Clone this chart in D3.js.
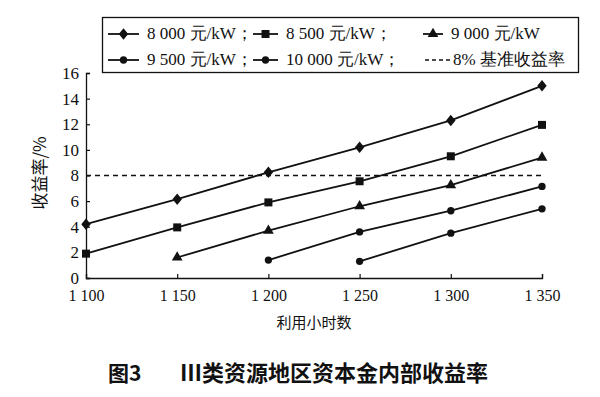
<!DOCTYPE html>
<html>
<head>
<meta charset="utf-8">
<script src="https://cdn.jsdelivr.net/npm/d3@7"></script>
<style>
body{margin:0;background:#fff;}
text{fill:#111;}
</style>
</head>
<body>
<div id="chart"></div>
<script>
// hours of use (x categories)
const hours = [1100, 1150, 1200, 1250, 1300, 1350];
const yTicks = [0, 2, 4, 6, 8, 10, 12, 14, 16];

// return rate (%) per investment cost, null = not drawn
const s8000 = [4.2, 6.15, 8.25, 10.2, 12.3, 15.0];
const s8500 = [1.9, 3.95, 5.9, 7.55, 9.5, 11.95];
const s9000 = [null, 1.6, 3.7, 5.6, 7.25, 9.4];
const s9500 = [null, null, 1.4, 3.6, 5.25, 7.15];
const s10000 = [null, null, null, 1.3, 3.5, 5.4];
const benchmark = 8;

const seriesNames = ["8 000 元/kW；", "8 500 元/kW；", "9 000 元/kW", "9 500 元/kW；", "10 000 元/kW；"];
const seriesMarks = ["diamond", "square", "triangle", "circle", "circle"];
const seriesVals = [s8000, s8500, s9000, s9500, s10000];

const SERIF = "'Liberation Serif', 'Times New Roman', serif";
const CJK = "'Noto Sans CJK SC', sans-serif";

const width = 600, height = 397;
const margin = {top: 73, bottom: 119, left: 86, right: 58};

const svg = d3.select("#chart").append("svg")
  .attr("width", width)
  .attr("height", height);

const xScale = d3.scaleLinear()
  .domain([1100, 1350])
  .range([margin.left, width - margin.right]);

const yScale = d3.scaleLinear()
  .domain([0, 16])
  .range([height - margin.bottom, margin.top]);

const xAxis = d3.axisBottom(xScale)
  .tickValues(hours)
  .tickSize(-4)
  .tickPadding(12)
  .tickFormat(d => d3.format(",")(d).replace(",", " "));

const yAxis = d3.axisLeft(yScale)
  .tickValues(yTicks)
  .tickSize(-4)
  .tickPadding(8);

const gx = svg.append("g")
  .attr("transform", `translate(0,${height - margin.bottom})`)
  .call(xAxis)
  .attr("font-family", SERIF);
gx.select(".domain").attr("stroke", "#111").attr("stroke-width", 1.3);
gx.selectAll(".tick line").attr("stroke", "#111").attr("stroke-width", 1.2);
gx.selectAll(".tick text")
  .style("font-family", SERIF)
  .style("font-size", "16px")
  .attr("dy", "0.71em");

const gy = svg.append("g")
  .attr("transform", `translate(${margin.left},0)`)
  .call(yAxis)
  .attr("font-family", SERIF);
gy.select(".domain").attr("stroke", "#111").attr("stroke-width", 1.3);
gy.selectAll(".tick line").attr("stroke", "#111").attr("stroke-width", 1.2);
gy.selectAll(".tick text")
  .style("font-family", SERIF)
  .style("font-size", "17px")
  .attr("x", -7);

// axis titles
svg.append("text")
  .attr("x", xScale(1225))
  .attr("y", 328)
  .attr("text-anchor", "middle")
  .style("font-family", CJK)
  .style("font-size", "15px")
  .text("利用小时数");

svg.append("text")
  .attr("transform", `translate(46,${yScale(8.2)}) rotate(-90)`)
  .attr("text-anchor", "middle")
  .style("font-family", CJK)
  .style("font-size", "17px")
  .text("收益率/%");

// benchmark dashed line
svg.append("line")
  .attr("x1", xScale(1100))
  .attr("x2", xScale(1350))
  .attr("y1", yScale(benchmark))
  .attr("y2", yScale(benchmark))
  .attr("stroke", "#111")
  .attr("stroke-width", 1.5)
  .attr("stroke-dasharray", "5,4");

const symbolOf = {
  diamond: d3.symbol().type(d3.symbolDiamond2 || d3.symbolDiamond).size(70),
  square: d3.symbol().type(d3.symbolSquare).size(64),
  triangle: d3.symbol().type(d3.symbolTriangle).size(50),
  circle: d3.symbol().type(d3.symbolCircle).size(42)
};

const line = d3.line()
  .defined(d => d.v != null)
  .x(d => xScale(d.h))
  .y(d => yScale(d.v));

seriesVals.forEach((vals, i) => {
  const pts = hours.map((h, j) => ({h: h, v: vals[j]}));
  svg.append("path")
    .datum(pts)
    .attr("fill", "none")
    .attr("stroke", "#111")
    .attr("stroke-width", 1.8)
    .attr("d", line);
  svg.selectAll(".m" + i)
    .data(pts.filter(d => d.v != null))
    .join("path")
    .attr("class", "m" + i)
    .attr("transform", d => `translate(${xScale(d.h)},${yScale(d.v)})` + (seriesMarks[i] === "diamond" ? " scale(0.9,1.1)" : ""))
    .attr("d", symbolOf[seriesMarks[i]])
    .attr("fill", "#111");
});

// legend
svg.append("rect")
  .attr("x", 102.5).attr("y", 17.5)
  .attr("width", 476).attr("height", 55)
  .attr("fill", "#fff")
  .attr("stroke", "#111")
  .attr("stroke-width", 1.3);

const legendPos = [[108, 34], [253, 34], [423, 34], [108, 60], [253, 60]];
seriesNames.forEach((name, i) => {
  const [lx, ly] = legendPos[i];
  const len = i === 2 ? 20 : (i < 1 || i === 3 ? 31 : 25);
  svg.append("line")
    .attr("x1", lx).attr("x2", lx + len)
    .attr("y1", ly).attr("y2", ly)
    .attr("stroke", "#111").attr("stroke-width", 1.8);
  svg.append("path")
    .attr("transform", `translate(${lx + len / 2},${ly})` + (seriesMarks[i] === "diamond" ? " scale(0.9,1.1)" : ""))
    .attr("d", symbolOf[seriesMarks[i]])
    .attr("fill", "#111");
  svg.append("text")
    .attr("x", lx + len + 8)
    .attr("y", ly + 5)
    .style("font-family", SERIF)
    .style("font-size", "17px")
    .text(name);
});

svg.append("line")
  .attr("x1", 425).attr("x2", 450)
  .attr("y1", 60).attr("y2", 60)
  .attr("stroke", "#111").attr("stroke-width", 1.5)
  .attr("stroke-dasharray", "4,3");
svg.append("text")
  .attr("x", 453)
  .attr("y", 65)
  .style("font-family", SERIF)
  .style("font-size", "17px")
  .text("8% 基准收益率");

// caption
svg.append("text")
  .attr("x", 108)
  .attr("y", 381)
  .style("font-family", CJK)
  .style("font-size", "21px")
  .style("font-weight", "bold")
  .text("图3");
svg.append("text")
  .attr("x", 180)
  .attr("y", 381)
  .style("font-family", CJK)
  .style("font-size", "22px")
  .style("font-weight", "bold")
  .text("Ⅲ类资源地区资本金内部收益率");
</script>
</body>
</html>
